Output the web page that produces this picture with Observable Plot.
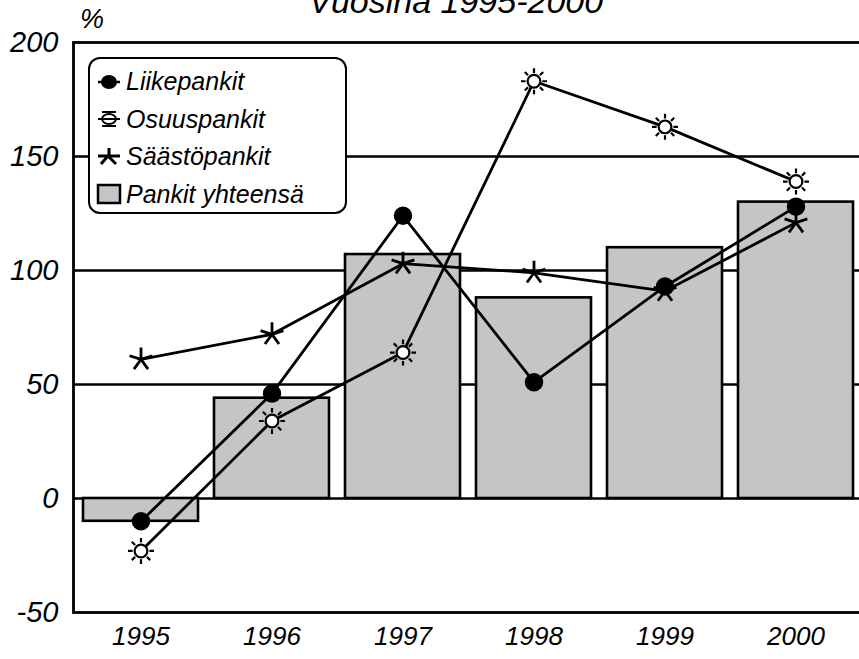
<!DOCTYPE html>
<html>
<head>
<meta charset="utf-8">
<script src="https://cdn.jsdelivr.net/npm/d3@7"></script>
<script src="https://cdn.jsdelivr.net/npm/@observablehq/plot@0.6"></script>
<style>
  html, body { margin: 0; padding: 0; background: #fff; overflow: hidden; }
  #wrap { position: relative; width: 859px; height: 659px; font-family: "Liberation Sans", Arial, sans-serif; font-style: italic; }
  #title { position: absolute; left: 0; width: 912px; top: -16px; text-align: center; font-size: 34px; line-height: 34px; color: #000; }
  #unit { position: absolute; left: 80px; top: 6px; font-size: 27px; line-height: 27px; color: #000; }
  #legend { position: absolute; left: 88px; top: 57px; width: 255px; height: 149px; border: 2.5px solid #000; border-radius: 12px; background: #fff; padding-top: 4px; box-sizing: content-box; }
  .row { display: flex; align-items: center; height: 37.5px; font-size: 25px; color: #000; }
  .row svg { margin-left: 6px; margin-right: 4px; }
  #chart svg text { fill: #000; }
  g[aria-label="y-axis tick label"] text, g[aria-label="y-axis"] text { font-size: 29px !important; }
  g[aria-label="x-axis tick label"] text, g[aria-label="x-axis"] text { font-size: 26px !important; }
</style>
</head>
<body>
<div id="wrap">
  <div id="title">Vuosina 1995-2000</div>
  <div id="chart"></div>
  <div id="unit">%</div>
  <div id="legend"></div>
</div>
<script>
const years = ["1995", "1996", "1997", "1998", "1999", "2000"];
const pankitYhteensa = [-10, 44, 107, 88, 110, 130];
const liikepankit = [-10, 46, 124, 51, 93, 128];
const osuuspankit = [-23, 34, 64, 183, 163, 139];
const saastopankit = [61, 72, 103, 99, 91, 121];
const yTicks = [-50, 0, 50, 100, 150, 200];
const gridValues = [0, 50, 100, 150];
const seriesNames = ["Liikepankit", "Osuuspankit", "Säästöpankit", "Pankit yhteensä"];

const sun = {
  draw(ctx, size) {
    const r = Math.sqrt(size / Math.PI);
    const c = r * 0.58;
    ctx.moveTo(c, 0);
    ctx.arc(0, 0, c, 0, 2 * Math.PI);
    for (let i = 0; i < 8; i++) {
      const a = i * Math.PI / 4;
      ctx.moveTo(Math.cos(a) * (c + 2), Math.sin(a) * (c + 2));
      ctx.lineTo(Math.cos(a) * (r + 2), Math.sin(a) * (r + 2));
    }
  }
};
const star5 = {
  draw(ctx, size) {
    const r = Math.sqrt(size / Math.PI);
    for (let i = 0; i < 5; i++) {
      const a = -Math.PI / 2 + i * 2 * Math.PI / 5;
      ctx.moveTo(0, 0);
      ctx.lineTo(Math.cos(a) * r, Math.sin(a) * r);
    }
  }
};

const rows = (vals) => years.map((y, i) => ({year: y, value: vals[i]}));
const barData = rows(pankitYhteensa);
const liikeData = rows(liikepankit);
const osuusData = rows(osuuspankit);
const saastoData = rows(saastopankit);

const chart = Plot.plot({
  width: 859,
  height: 659,
  marginLeft: 73,
  marginTop: 42,
  marginBottom: 47,
  marginRight: -5,
  style: {fontFamily: "Liberation Sans, Arial, sans-serif", fontStyle: "italic", fontSize: "27px", color: "#000", background: "transparent"},
  x: {domain: years, paddingInner: 0.12, paddingOuter: 0.06, label: null, tickSize: 0, tickPadding: 14},
  y: {domain: [-50, 200], ticks: yTicks, tickFormat: d => String(d), label: null, tickSize: 0, tickPadding: 15},
  marks: [
    Plot.ruleY(gridValues, {stroke: "#000", strokeWidth: 2.6}),
    Plot.barY(barData, {x: "year", y: "value", fill: "#c5c5c5", stroke: "#000", strokeWidth: 2.6}),
    Plot.line(osuusData, {x: "year", y: "value", stroke: "#000", strokeWidth: 2.8}),
    Plot.line(liikeData, {x: "year", y: "value", stroke: "#000", strokeWidth: 2.8}),
    Plot.line(saastoData, {x: "year", y: "value", stroke: "#000", strokeWidth: 2.8}),
    Plot.dot(osuusData, {x: "year", y: "value", symbol: sun, r: 11, fill: "white", stroke: "#000", strokeWidth: 2.2}),
    Plot.dot(saastoData, {x: "year", y: "value", symbol: star5, r: 12, fill: "none", stroke: "#000", strokeWidth: 2.8}),
    Plot.dot(liikeData, {x: "year", y: "value", r: 8.5, fill: "#000", stroke: "#000"}),
    Plot.frame({stroke: "#000", strokeWidth: 2.8})
  ]
});
document.getElementById("chart").appendChild(chart);

// legend
const legend = document.getElementById("legend");
function symSvg(kind) {
  const ns = "http://www.w3.org/2000/svg";
  const s = document.createElementNS(ns, "svg");
  s.setAttribute("width", 26); s.setAttribute("height", 26);
  s.setAttribute("viewBox", "-13 -13 26 26");
  const p = document.createElementNS(ns, "path");
  if (kind === 0) {
    p.setAttribute("d", "M-11,0L11,0");
    p.setAttribute("stroke", "#000"); p.setAttribute("stroke-width", 2.5);
    const c = document.createElementNS(ns, "ellipse");
    c.setAttribute("rx", 8); c.setAttribute("ry", 7); c.setAttribute("fill", "#000");
    s.appendChild(p); s.appendChild(c); return s;
  }
  if (kind === 1) {
    p.setAttribute("d", "M-11,0L11,0M7,0A7,5 0 1 1 -7,0A7,5 0 1 1 7,0M-7,-7L7,-7M-7,7L7,7");
    p.setAttribute("fill", "none"); p.setAttribute("stroke", "#000"); p.setAttribute("stroke-width", 2);
  } else if (kind === 2) {
    p.setAttribute("d", "M-11,-1L11,-1M-1,-1L-8,7M-1,-1L7,7M0,-1L0,-9");
    p.setAttribute("fill", "none"); p.setAttribute("stroke", "#000"); p.setAttribute("stroke-width", 3);
  } else {
    p.setAttribute("d", "M-11,-9h22v18h-22z");
    p.setAttribute("fill", "#c5c5c5"); p.setAttribute("stroke", "#000"); p.setAttribute("stroke-width", 2.5);
  }
  s.appendChild(p);
  return s;
}
seriesNames.forEach((name, i) => {
  const r = document.createElement("div");
  r.className = "row";
  r.appendChild(symSvg(i));
  const t = document.createElement("span");
  t.textContent = name;
  r.appendChild(t);
  legend.appendChild(r);
});
</script>
</body>
</html>
